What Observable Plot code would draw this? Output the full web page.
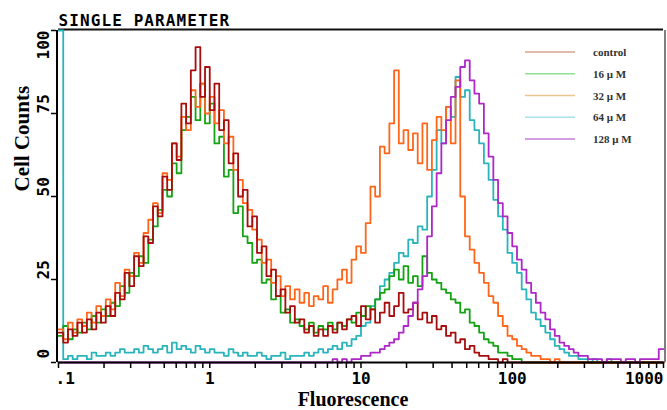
<!DOCTYPE html>
<html><head><meta charset="utf-8">
<script src="https://cdn.jsdelivr.net/npm/d3@7"></script>
<script src="https://cdn.jsdelivr.net/npm/@observablehq/plot@0.6"></script>
<style>body{margin:0;background:#fff}</style>
</head><body><div id="chart"></div>
<script>
// ---- data ----
const seriesNames = ["control", "16 μ M", "32 μ M", "64 μ M", "128 μ M"];
const lineColors = ["#a80c0c", "#13a313", "#ff661a", "#2ab4bc", "#ad28c6"];
const legendColors = ["#d6a48c", "#8ee48e", "#ecc48e", "#a8e2ea", "#c47cd8"];
const channelsPerDecade = 32;
const xStart = 0.1;

const control = [
  9,6,10,8,12,9,13,10,15,12,
  17,14,21,19,27,23,32,29,38,36,
  47,44,56,52,66,61,78,72,88,95,
  80,89,76,84,70,73,60,63,50,52,
  41,44,33,35,26,28,20,22,15,17,
  12,13,9,11,8,10,8,11,9,12,
  10,13,14,11,17,13,16,12,15,18,
  14,17,21,15,16,18,13,15,12,14,
  10,11,8,9,6,7,4,5,3,2,
  2,1,1,0,1,0,0,0,0,0,
  0,0,0,0,0,0,0,0,0,0,
  0,0,0,0,0,0,0,0,0,0,
  0,0,0,0,0,0,0,0
];
const uM16 = [
  8,11,7,10,9,12,10,14,12,16,
  14,18,17,23,21,27,26,32,30,37,
  41,46,52,50,60,57,70,74,80,73,
  84,72,78,66,68,56,58,45,47,38,
  36,30,31,24,25,19,20,15,16,12,
  13,11,10,12,9,11,10,12,10,12,
  11,13,12,15,14,17,16,19,21,22,
  26,28,25,29,24,26,23,32,27,25,
  24,22,21,19,18,15,16,12,11,9,
  7,6,5,3,3,2,1,1,0,0,
  0,0,0,0,0,0,0,0,0,0,
  0,0,0,0,0,0,0,0,0,0,
  0,0,0,0,0,0,0,0
];
const uM32 = [
  10,7,12,9,13,11,15,12,17,14,
  19,16,24,20,28,26,33,30,39,43,
  48,45,57,55,66,62,74,70,82,77,
  84,75,80,72,76,66,68,58,55,48,
  46,40,37,30,31,24,26,20,23,19,
  22,18,21,17,20,19,23,18,22,25,
  28,24,31,35,33,42,53,50,65,63,
  72,88,66,70,64,69,60,72,58,67,
  74,70,77,66,85,50,38,34,30,27,
  24,20,18,14,11,8,7,5,4,3,
  2,2,1,1,0,1,0,0,0,0,
  0,0,0,0,0,0,0,0,0,0,
  0,0,0,0,0,0,0,0
];
const uM64 = [
  100,1,2,1,2,2,1,3,2,2,
  3,2,3,4,3,3,4,3,5,4,
  3,4,5,3,6,4,5,4,3,5,
  4,3,4,3,3,2,4,3,2,3,
  2,2,3,2,1,2,2,3,1,2,
  2,2,3,2,3,4,3,4,5,4,
  6,5,7,8,11,12,17,19,23,25,
  27,30,33,32,37,36,41,40,50,58,
  70,66,77,74,86,80,82,73,70,66,
  60,55,49,44,40,33,30,27,22,19,
  15,13,11,9,7,5,4,3,2,2,
  1,1,0,1,0,0,1,0,0,0,
  0,0,0,0,0,0,0,0
];
const uM128 = [
  0,0,0,0,0,0,0,0,0,0,
  0,0,0,0,0,0,0,0,0,0,
  0,0,0,0,0,0,0,0,0,0,
  0,0,0,0,0,0,0,0,0,0,
  0,0,0,0,0,0,0,0,0,0,
  0,0,0,0,0,0,0,0,1,0,
  1,0,1,1,2,2,3,3,4,5,
  6,7,9,11,14,18,22,26,38,47,
  57,66,73,80,83,89,91,85,81,78,
  69,62,55,48,44,39,35,31,28,24,
  21,18,15,13,10,8,6,5,4,3,
  2,2,1,1,1,0,1,1,1,0,
  1,1,0,1,1,1,1,4
];
const seriesValues = [control, uM16, uM32, uM64, uM128];
const drawOrder = [3, 1, 2, 0, 4];

const xTickValues = [0.1, 1, 10, 100, 1000];
const xTickLabels = [".1", "1", "10", "100", "1000"];
const yTickValues = [0, 25, 50, 75, 100];
const yTickLabels = ["0", "25", "50", "75", "100"];
const titleText = "SINGLE PARAMETER";
const xLabel = "Fluorescence";
const yLabel = "Cell Counts";

// ---- build rows ----
function toRows(values) {
  const rows = values.map((v, i) => ({x: xStart * 10 ** (i / channelsPerDecade), y: v}));
  rows.push({x: xStart * 10 ** (values.length / channelsPerDecade), y: values[values.length - 1]});
  return rows;
}
const minorTicks = [];
for (let d = 0; d < xTickValues.length - 1; d++)
  for (let m = 2; m <= 9; m++) minorTicks.push(xTickValues[d] * m);
const allXTicks = xTickValues.concat(minorTicks);
const xTickRows = xTickValues.map((v, i) => ({v, label: xTickLabels[i]}));
const yTickRows = yTickValues.map((v, i) => ({v, label: yTickLabels[i]}));

const mono = "DejaVu Sans Mono";
const serif = "Liberation Serif";
const tickText = {fontFamily: mono, fontWeight: "bold", fontSize: 16, fill: "#000"};

const lineMarks = drawOrder.map(k => Plot.line(toRows(seriesValues[k]), {
  x: "x", y: "y", curve: "step-after", stroke: lineColors[k], strokeWidth: 1.8
}));

const svg = Plot.plot({
  width: 667,
  height: 410,
  marginLeft: 58,
  marginRight: 4,
  marginTop: 30,
  marginBottom: 48,
  style: {background: "white", overflow: "visible"},
  x: {type: "log", domain: [0.1, 1000]},
  y: {domain: [0, 100]},
  marks: [
    Plot.ruleY([100], {stroke: "#111", strokeWidth: 2, dy: -1}),
    Plot.ruleX([1000], {stroke: "#555", strokeWidth: 1.5, dx: 1.5}),
    ...lineMarks,
    Plot.axisX({ticks: allXTicks, tickSize: 6, tickFormat: () => "", label: null, strokeWidth: 1.5}),
    Plot.axisY({ticks: yTickValues, tickSize: 5, tickFormat: () => "", label: null, strokeWidth: 1.5, dx: -2}),
    Plot.ruleX([0.1], {stroke: "#000", strokeWidth: 2, dx: -1.5}),
    Plot.ruleY([0], {stroke: "#000", strokeWidth: 2}),
    // x tick labels
    Plot.text(xTickRows.slice(0, 1), {x: "v", text: "label", frameAnchor: "bottom", dy: 16, dx: -3, textAnchor: "start", lineAnchor: "middle", ...tickText}),
    Plot.text(xTickRows.slice(1, -1), {x: "v", text: "label", frameAnchor: "bottom", dy: 16, lineAnchor: "middle", ...tickText}),
    Plot.text(xTickRows.slice(-1), {x: "v", text: "label", frameAnchor: "bottom", dy: 16, textAnchor: "end", lineAnchor: "middle", ...tickText}),
    // y tick labels (rotated)
    Plot.text(yTickRows.slice(0, 1), {y: "v", text: "label", frameAnchor: "left", dx: -14.5, dy: -4, rotate: -90, textAnchor: "start", lineAnchor: "middle", ...tickText}),
    Plot.text(yTickRows.slice(1, -1), {y: "v", text: "label", frameAnchor: "left", dx: -14.5, rotate: -90, lineAnchor: "middle", ...tickText}),
    Plot.text(yTickRows.slice(-1), {y: "v", text: "label", frameAnchor: "left", dx: -14.5, rotate: -90, textAnchor: "end", lineAnchor: "middle", ...tickText}),
    // title and axis titles
    Plot.text([titleText], {frameAnchor: "top-left", textAnchor: "start", lineAnchor: "bottom", dy: -5, dx: 0, ...tickText}),
    Plot.text([xLabel], {frameAnchor: "bottom", lineAnchor: "bottom", dy: 43, dx: -8, fontFamily: serif, fontWeight: "bold", fontSize: 20, fill: "#000"}),
    Plot.text([yLabel], {frameAnchor: "left", lineAnchor: "bottom", rotate: -90, dx: -30, dy: -5, fontFamily: serif, fontWeight: "bold", fontSize: 21, fill: "#000"})
  ]
});

// letter spacing for the pixel-style title
d3.select(svg).selectAll("text").filter(function() { return this.textContent === titleText; })
  .style("letter-spacing", "1.1px");

// legend inside the plot (top right)
const leg = d3.select(svg).append("g").attr("class", "legend").attr("text-anchor", "start");
seriesNames.forEach((name, i) => {
  const yy = 52 + i * 21.75;
  leg.append("line").attr("x1", 525).attr("x2", 575).attr("y1", yy).attr("y2", yy)
    .attr("stroke", legendColors[i]).attr("stroke-width", 1.6);
  leg.append("text").attr("x", 593).attr("y", yy + 4).text(name)
    .attr("text-anchor", "start")
    .attr("font-family", serif).attr("font-weight", "bold").attr("font-size", 11).attr("fill", "#333");
});

document.getElementById("chart").appendChild(svg);
</script>
</body></html>
